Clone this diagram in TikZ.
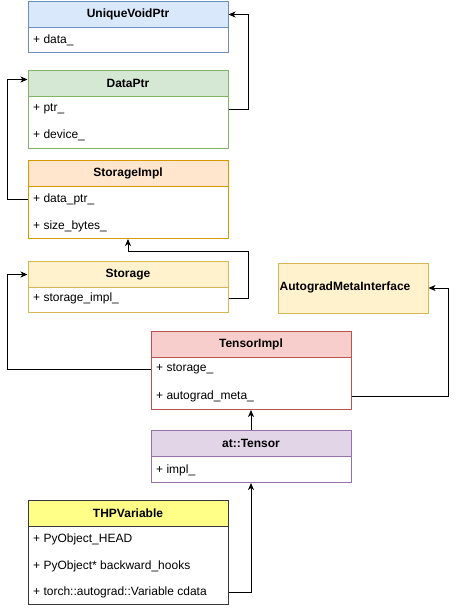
\documentclass[tikz,border=0pt]{standalone}
\usepackage{fontspec}
\setmainfont{Liberation Sans}
\usetikzlibrary{arrows.meta}
\definecolor{blueF}{HTML}{DAE8FC}\definecolor{blueS}{HTML}{6C8EBF}
\definecolor{greenF}{HTML}{D5E8D4}\definecolor{greenS}{HTML}{82B366}
\definecolor{orangeF}{HTML}{FFE6CC}\definecolor{orangeS}{HTML}{D79B00}
\definecolor{yellowF}{HTML}{FFF2CC}\definecolor{yellowS}{HTML}{D6B656}
\definecolor{redF}{HTML}{F8CECC}\definecolor{redS}{HTML}{B85450}
\definecolor{purpleF}{HTML}{E1D5E7}\definecolor{purpleS}{HTML}{9673A6}
\definecolor{noteF}{HTML}{FFFF88}\definecolor{noteS}{HTML}{36393D}
\begin{document}
\begin{tikzpicture}[x=1pt,y=-1pt,
  font=\fontsize{12}{14}\selectfont,
  hdr/.style={draw=#1, line width=1pt, minimum width=200pt, minimum height=26pt, anchor=north west, inner sep=0pt, font=\fontsize{12}{14}\selectfont\bfseries},
  classbody/.style={draw=#1, line width=1pt, fill=white, minimum width=200pt, anchor=north west, inner sep=0pt},
  row/.style={anchor=west, inner sep=0pt},
  arr/.style={line width=1pt, -{Stealth[length=7pt,width=6pt,inset=2pt]}}]
\useasboundingbox (0,0) rectangle (456,608);

% UniqueVoidPtr
\node[hdr=blueS, fill=blueF] (uvp) at (27.5,1) {UniqueVoidPtr};
\node[classbody=blueS, minimum height=25pt] (uvpb) at (27.5,27) {};
\node[row] (uvp1) at (33,40) {+ data\_};

% DataPtr
\node[hdr=greenS, fill=greenF] (dp) at (27.5,70) {DataPtr};
\node[classbody=greenS, minimum height=52pt] (dpb) at (27.5,96) {};
\node[row] (dp1) at (33,109) {+ ptr\_};
\node[row] (dp2) at (33,135) {+ device\_};

% StorageImpl
\node[hdr=orangeS, fill=orangeF] (si) at (27.5,160) {StorageImpl};
\node[classbody=orangeS, minimum height=52pt] (sib) at (27.5,186) {};
\node[row] (si1) at (33,199) {+ data\_ptr\_};
\node[row] (si2) at (33,226) {+ size\_bytes\_};

% Storage
\node[hdr=yellowS, fill=yellowF] (st) at (27.5,261) {Storage};
\node[classbody=yellowS, minimum height=25pt] (stb) at (27.5,287) {};
\node[row] (st1) at (33,298) {+ storage\_impl\_};

% AutogradMetaInterface
\node[draw=yellowS, fill=yellowF, line width=1pt, minimum width=150pt, minimum height=50pt, anchor=north west, inner sep=0pt] (ami) at (277.5,262.5) {};
\node[row, font=\fontsize{12}{14}\selectfont\bfseries] (amit) at (279.5,287.5) {AutogradMetaInterface};

% TensorImpl
\node[hdr=redS, fill=redF] (ti) at (150.5,331) {TensorImpl};
\node[classbody=redS, minimum height=52pt] (tib) at (150.5,357) {};
\node[row] (ti1) at (156,369) {+ storage\_};
\node[row] (ti2) at (156,396) {+ autograd\_meta\_};

% at::Tensor
\node[hdr=purpleS, fill=purpleF] (at) at (150.5,430) {at::Tensor};
\node[classbody=purpleS, minimum height=26pt] (atb) at (150.5,456) {};
\node[row] (at1) at (156,470) {+ impl\_};

% THPVariable
\node[hdr=noteS, fill=noteF] (thp) at (27.5,500) {THPVariable};
\node[classbody=noteS, minimum height=78pt] (thpb) at (27.5,526) {};
\node[row] (thp1) at (33,539) {+ PyObject\_HEAD};
\node[row] (thp2) at (33,566) {+ PyObject* backward\_hooks};
\node[row] (thp3) at (33,592) {+ torch::autograd::Variable cdata};

% connectors
\draw[arr] (dp1 -| dpb.east) -- ++(20,0) |- (uvp.east);
\draw[arr] (si1 -| sib.west) -- ++(-20.5,0) |- ([yshift=4pt]dp.west);
\draw[arr] (st1 -| stb.east) -- ++(20,0) |- ([yshift=-12pt]sib.south) -- (sib.south);
\draw[arr] (ti1 -| tib.west) -- ++(-143.5,0) |- (st.west);
\draw[arr] (ti2 -| tib.east) -- ++(96.5,0) |- (ami.east);
\draw[arr] (at.north) -- (tib.south);
\draw[arr] (thp3 -| thpb.east) -- (thp3 -| atb.south) -- (atb.south);
\end{tikzpicture}
\end{document}
